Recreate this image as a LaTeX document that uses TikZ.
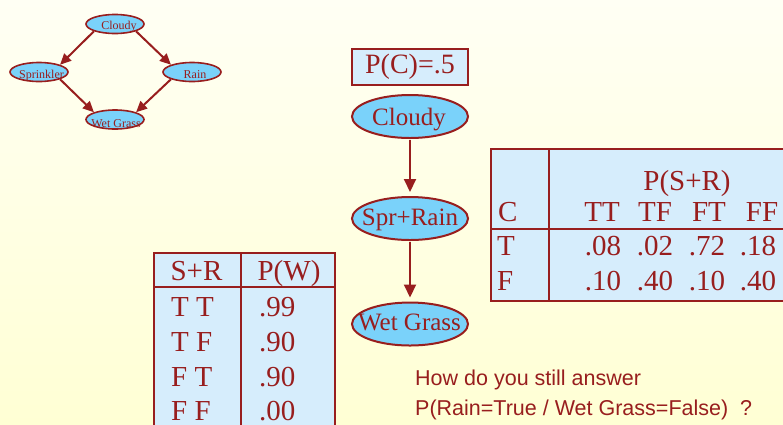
\documentclass[tikz,border=0pt]{standalone}
\usepackage{fontspec}
\setmainfont{Liberation Serif}
\newfontfamily\arialfont{Liberation Sans}
\usetikzlibrary{arrows.meta,shapes.geometric}
\definecolor{maroon}{RGB}{152,30,30}
\definecolor{nodeblue}{RGB}{122,210,250}
\definecolor{tableblue}{RGB}{214,237,252}
\definecolor{bgtop}{RGB}{255,255,244}
\definecolor{bgbot}{RGB}{255,255,212}
\tikzset{
  smallnode/.style={ellipse, draw=maroon, line width=1.6pt, fill=nodeblue,
    minimum width=58pt, minimum height=19pt, inner sep=0pt},
  smalllab/.style={text=maroon, font=\fontsize{12}{12}\selectfont, inner sep=0pt, anchor=base},
  bignode/.style={ellipse, draw=maroon, line width=2pt, fill=nodeblue,
    minimum width=116pt, minimum height=43pt, inner sep=0pt},
  biglab/.style={text=maroon, font=\fontsize{25}{25}\selectfont, inner sep=0pt, anchor=base},
  smallarrow/.style={draw=maroon, line width=2pt, -{Triangle[length=11pt,width=10pt]}},
  bigarrow/.style={draw=maroon, line width=2pt, -{Triangle[length=13pt,width=12pt]}},
  tablebox/.style={draw=maroon, line width=2.5pt, fill=tableblue},
  rule/.style={draw=maroon, line width=1.8pt},
  cell/.style={text=maroon, font=\fontsize{29}{29}\selectfont, inner sep=0pt, anchor=base},
  lcell/.style={cell, anchor=base west},
  question/.style={text=maroon, font=\arialfont\fontsize{21.5}{21.5}\selectfont, inner sep=0pt, anchor=base west}
}
\begin{document}
\begin{tikzpicture}[x=1pt,y=-1pt]
  % page and background
  \useasboundingbox (0,0) rectangle (783,424);
  \shade[top color=bgtop, bottom color=bgbot] (0,0) rectangle (783,424);
  \clip (0,0) rectangle (783,424);

  % small four-node network
  \node[smallnode] (cl) at (115,24) {};
  \node[smallnode] (sp) at (39,72) {};
  \node[smallnode] (rn) at (192,72) {};
  \node[smallnode] (wg) at (115,119.5) {};
  \node[smalllab] (cl-t) at (119,29) {Cloudy};
  \node[smalllab] (sp-t) at (41.5,78) {Sprinkler};
  \node[smalllab] (rn-t) at (195,78) {Rain};
  \node[smalllab] (wg-t) at (116,127) {Wet Grass};
  \draw[smallarrow] (cl.south west) -- (sp.north east);
  \draw[smallarrow] (cl.south east) -- (rn.north west);
  \draw[smallarrow] (sp.south east) -- (wg.north west);
  \draw[smallarrow] (rn.south west) -- (wg.north east);

  % clustered chain
  \node[draw=maroon, line width=2pt, fill=tableblue, minimum width=116pt, minimum height=36pt,
        inner sep=0pt, text=maroon, font=\fontsize{28}{28}\selectfont] (pc) at (410,67) {P(C)=.5};
  \node[bignode] (bc) at (410,116.5) {};
  \node[bignode] (bsr) at (410,218.5) {};
  \node[bignode] (bwg) at (410,324) {};
  \node[biglab] (bc-t) at (409,125) {Cloudy};
  \node[biglab] (bsr-t) at (410,225.5) {Spr+Rain};
  \node[biglab] (bwg-t) at (409.5,330.5) {Wet Grass};
  \draw[bigarrow, shorten <=1pt, shorten >=4pt] (bc.south) -- (bsr.north);
  \draw[bigarrow, shorten <=1pt, shorten >=4pt] (bsr.south) -- (bwg.north);

  % table P(S+R | C)
  \draw[tablebox] (491,149) rectangle (800,301);
  \draw[rule] (549,149) -- (549,301);
  \draw[rule] (491,229) -- (800,229);
  \node[cell] (hsr) at (687,190) {P(S+R)};
  \node[lcell] (hc) at (498,221) {C};
  \node[cell] (htt) at (602,221) {TT};
  \node[cell] (htf) at (655,221) {TF};
  \node[cell] (hft) at (709,221) {FT};
  \node[cell] (hff) at (762,221) {FF};
  \node[lcell] (rt) at (497,255) {T};
  \node[cell] (t1) at (603,255) {.08};
  \node[cell] (t2) at (655,255) {.02};
  \node[cell] (t3) at (707,255) {.72};
  \node[cell] (t4) at (758,255) {.18};
  \node[lcell] (rf) at (497,290) {F};
  \node[cell] (f1) at (603,290) {.10};
  \node[cell] (f2) at (655,290) {.40};
  \node[cell] (f3) at (707,290) {.10};
  \node[cell] (f4) at (758,290) {.40};

  % table P(W | S+R)
  \draw[tablebox] (154,253) rectangle (335,440);
  \draw[rule] (241,253) -- (241,440);
  \draw[rule] (154,287) -- (335,287);
  \node[cell] (hs) at (196.5,280) {S+R};
  \node[cell] (hw) at (289,280) {P(W)};
  \node[lcell] (w1) at (171,316) {T T};
  \node[lcell] (v1) at (259,316) {.99};
  \node[lcell] (w2) at (171,351) {T F};
  \node[lcell] (v2) at (259,351) {.90};
  \node[lcell] (w3) at (171,386) {F T};
  \node[lcell] (v3) at (259,386) {.90};
  \node[lcell] (w4) at (171,420) {F F};
  \node[lcell] (v4) at (259,420) {.00};

  % question
  \node[question] (q1) at (415,385) {How do you still answer};
  \node[question] (q2) at (415,415) {P(Rain=True / Wet Grass=False)\ \ ?};
\end{tikzpicture}
\end{document}
